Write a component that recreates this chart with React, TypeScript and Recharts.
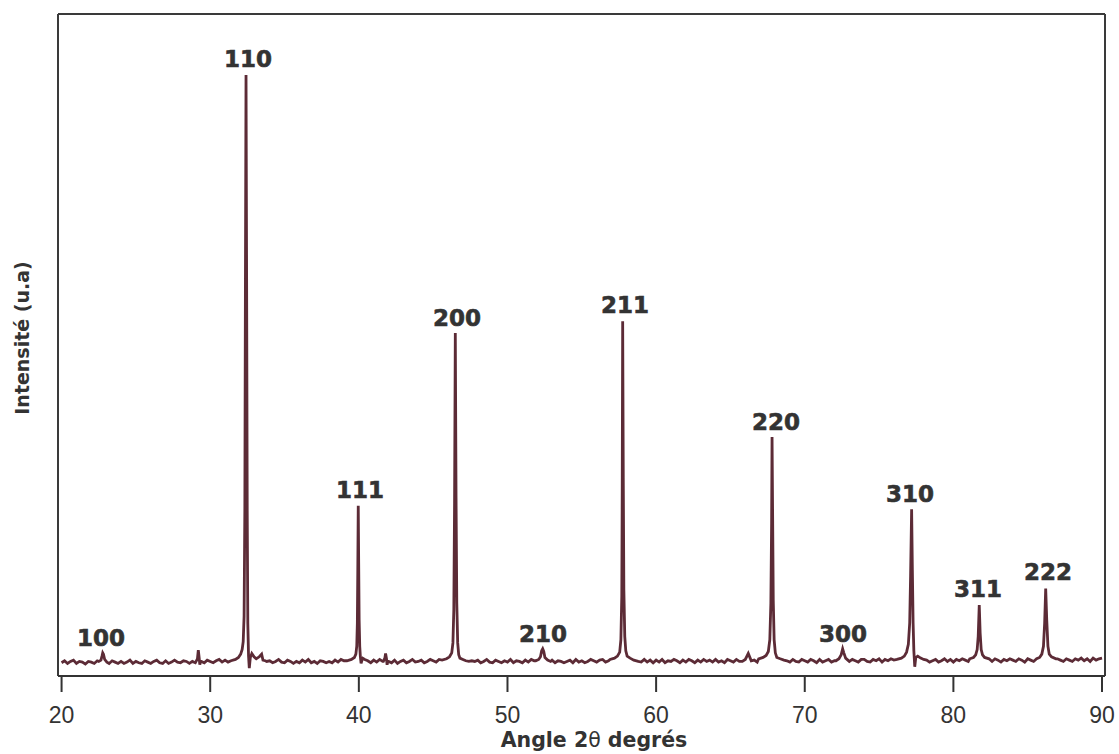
import React from 'react';
import { ComposedChart, Line, Scatter, XAxis, YAxis, ReferenceLine, Customized } from 'recharts';

// 2θ grid of the background scan (start, step) and hand-read background counts
const scanStart = 20;
const scanStep = 0.2;
const backgroundCounts: number[] = [
  20, 23, 19, 22, 24, 19, 22, 21, 18, 22,
  21, 19, 23, 22, 20, 22, 19, 23, 21, 19,
  22, 19, 21, 24, 19, 22, 20, 19, 23, 21,
  19, 22, 24, 20, 19, 23, 19, 21, 24, 21,
  20, 23, 22, 19, 22, 20, 24, 22, 20, 24,
  22, 20, 23, 25, 21, 24, 21, 25, 23, 26,
  25, 28, 30, 30, 30, 28, 26, 24, 23, 22,
  23, 20, 22, 25, 21, 20, 24, 22, 19, 22,
  20, 24, 21, 25, 20, 22, 19, 23, 22, 20,
  22, 20, 24, 21, 25, 23, 21, 23, 25, 26,
  26, 24, 23, 21, 20, 24, 21, 25, 22, 23,
  22, 20, 24, 19, 22, 24, 20, 22, 25, 21,
  22, 24, 20, 22, 25, 23, 21, 25, 25, 26,
  27, 28, 30, 40, 30, 28, 26, 24, 23, 22,
  24, 20, 22, 25, 21, 20, 24, 22, 20, 23,
  21, 25, 20, 23, 22, 20, 24, 21, 25, 23,
  23, 25, 24, 23, 22, 24, 20, 23, 22, 20,
  22, 24, 20, 25, 21, 23, 20, 22, 25, 23,
  21, 24, 25, 21, 23, 25, 24, 26, 27, 30,
  30, 28, 26, 23, 24, 21, 25, 21, 24, 20,
  24, 21, 25, 20, 23, 22, 25, 23, 20, 24,
  21, 25, 23, 20, 24, 21, 25, 22, 24, 21,
  25, 21, 23, 20, 25, 23, 21, 25, 22, 22,
  25, 34, 23, 24, 21, 24, 25, 26, 28, 30,
  30, 28, 26, 23, 24, 21, 25, 22, 21, 25,
  23, 21, 25, 23, 20, 25, 21, 23, 25, 21,
  23, 25, 26, 28, 30, 22, 25, 23, 21, 25,
  25, 22, 21, 25, 23, 26, 21, 25, 23, 26,
  24, 25, 26, 28, 30, 30, 30, 30, 30, 28,
  26, 24, 21, 23, 25, 21, 23, 26, 22, 25,
  21, 25, 23, 26, 24, 22, 25, 25, 26, 28,
  27, 25, 24, 22, 26, 24, 21, 25, 23, 26,
  24, 22, 26, 24, 21, 26, 24, 22, 25, 26,
  28, 30, 30, 30, 28, 26, 24, 22, 26, 24,
  22, 26, 24, 27, 23, 26, 22, 27, 24, 26,
  27,
];

// Hand-read peak profiles: [2θ, intensity]
const peak100: [number, number][] = [[22.5, 22], [22.65, 24], [22.72, 30], [22.77, 35], [22.82, 33], [22.9, 25], [23.05, 21]];
const peak292: [number, number][] = [[29.05, 22], [29.14, 26], [29.2, 39], [29.26, 27], [29.3, 17], [29.35, 22]];
const peak110: [number, number][] = [[31.4, 23], [31.7, 25], [31.9, 28], [32.05, 33], [32.15, 40], [32.22, 52], [32.28, 90], [32.33, 250], [32.37, 600], [32.41, 908], [32.45, 600], [32.49, 250], [32.53, 80], [32.58, 30], [32.63, 12], [32.7, 28], [32.8, 34], [32.95, 29], [33.1, 26], [33.3, 29], [33.46, 33], [33.55, 24], [33.7, 23]];
const peak111: [number, number][] = [[39.2, 23], [39.5, 25], [39.7, 28], [39.8, 33], [39.86, 45], [39.9, 80], [39.93, 160], [39.96, 257], [39.99, 170], [40.02, 85], [40.06, 45], [40.1, 30], [40.15, 19], [40.25, 27], [40.4, 25], [40.6, 23]];
const peak418: [number, number][] = [[41.65, 22], [41.75, 27], [41.8, 34], [41.86, 26], [41.9, 17], [41.95, 22]];
const peak200: [number, number][] = [[45.6, 24], [45.9, 26], [46.1, 29], [46.25, 35], [46.33, 50], [46.39, 100], [46.44, 260], [46.49, 518], [46.54, 270], [46.59, 110], [46.65, 50], [46.72, 32], [46.8, 27], [47.0, 25], [47.2, 23], [47.4, 22]];
const peak210: [number, number][] = [[51.9, 23], [52.1, 25], [52.22, 29], [52.3, 38], [52.37, 41], [52.44, 37], [52.52, 28], [52.7, 24], [52.9, 22]];
const peak211: [number, number][] = [[56.9, 25], [57.2, 27], [57.4, 30], [57.55, 36], [57.63, 55], [57.69, 120], [57.72, 280], [57.75, 536], [57.79, 300], [57.83, 130], [57.89, 60], [57.96, 38], [58.05, 30], [58.25, 27], [58.5, 24], [58.8, 22]];
const peak220: [number, number][] = [[66.9, 26], [67.2, 28], [67.4, 31], [67.55, 37], [67.65, 55], [67.72, 110], [67.77, 230], [67.8, 361], [67.84, 240], [67.88, 115], [67.94, 55], [68.02, 35], [68.12, 28], [68.35, 26], [68.6, 24], [68.8, 23]];
const peak300: [number, number][] = [[72.1, 23], [72.3, 26], [72.45, 32], [72.55, 41], [72.63, 35], [72.75, 27], [72.9, 24], [73.0, 22]];
const peak310: [number, number][] = [[76.2, 25], [76.5, 27], [76.7, 30], [76.85, 36], [76.97, 48], [77.06, 80], [77.12, 150], [77.19, 252], [77.24, 160], [77.29, 80], [77.34, 38], [77.4, 14], [77.47, 28], [77.6, 30], [77.8, 27], [78.0, 25], [78.2, 24]];
const peak311: [number, number][] = [[81.1, 26], [81.35, 28], [81.5, 32], [81.6, 40], [81.67, 60], [81.74, 107], [81.8, 65], [81.87, 40], [81.96, 32], [82.1, 28], [82.4, 26]];
const peak222: [number, number][] = [[85.6, 26], [85.8, 28], [85.95, 33], [86.06, 45], [86.14, 80], [86.21, 132], [86.28, 85], [86.36, 45], [86.45, 33], [86.6, 29], [86.9, 26]];

const peakProfiles = [peak100, peak292, peak110, peak111, peak418, peak200, peak210, peak211, peak220, peak300, peak310, peak311, peak222];

// Miller-index labels: text, 2θ position, intensity position (label centre)
const hklLabels = ['100', '110', '111', '200', '210', '211', '220', '300', '310', '311', '222'];
const hklAngles = [22.65, 32.54, 40.08, 46.6, 52.39, 57.91, 68.07, 72.57, 77.08, 81.65, 86.36];
const hklLevels = [57, 932, 281, 541, 63, 560, 384, 63, 275, 131, 157];

const xTicks = [20, 30, 40, 50, 60, 70, 80, 90];
const xDomain: [number, number] = [19.76, 90.2];
const yDomain: [number, number] = [0, 1000];

const LINE_COLOR = '#5c2b36';
const AXIS_COLOR = '#333333';
const FRAME_COLOR = '#3a3a3a';

function buildData() {
  const pts: { angle: number; intensity: number }[] = [];
  backgroundCounts.forEach((v, i) => {
    const a = Math.round((scanStart + i * scanStep) * 100) / 100;
    const inside = peakProfiles.some((p) => a >= p[0][0] && a <= p[p.length - 1][0]);
    if (!inside) pts.push({ angle: a, intensity: v });
  });
  peakProfiles.forEach((p) => p.forEach(([a, v]) => pts.push({ angle: a, intensity: v })));
  pts.sort((a, b) => a.angle - b.angle);
  return pts;
}

const data = buildData();
const labelData = hklLabels.map((t, i) => ({ angle: hklAngles[i], intensity: hklLevels[i], hkl: t }));

const Titles = () => (
  <g>
    <text
      x={594}
      y={747}
      textAnchor="middle"
      fontFamily="'DejaVu Sans', sans-serif"
      fontWeight={700}
      fontSize={20.5}
      fill={AXIS_COLOR}
    >
      Angle 2<tspan fontWeight={400}>θ</tspan> degrés
    </text>
    <text
      x={0}
      y={0}
      transform="translate(29 338) rotate(-90)"
      textAnchor="middle"
      fontFamily="'DejaVu Sans', sans-serif"
      fontWeight={700}
      fontSize={19}
      fill={AXIS_COLOR}
    >
      Intensité (u.a)
    </text>
  </g>
);

const HklLabel = (props: any) => {
  const { cx, cy, payload } = props;
  return (
    <text
      x={cx}
      y={cy}
      textAnchor="middle"
      dominantBaseline="central"
      fontFamily="'DejaVu Sans', sans-serif"
      fontWeight={700}
      fontSize={23}
      fill={AXIS_COLOR}
      stroke={AXIS_COLOR}
      strokeWidth={0.6}
    >
      {payload.hkl}
    </text>
  );
};

export default function App() {
  return (
    <div style={{ position: 'absolute', left: 0, top: 0, width: 1119, height: 754, background: '#fff' }}>
      <ComposedChart width={1119} height={754} data={data} margin={{ top: 14, right: 14, bottom: 0, left: 58 }}>
        <XAxis
          dataKey="angle"
          type="number"
          domain={xDomain}
          ticks={xTicks}
          allowDataOverflow
          height={78}
          tickSize={16}
          tickMargin={15}
          interval={0}
          axisLine={{ stroke: AXIS_COLOR, strokeWidth: 2 }}
          tickLine={{ stroke: AXIS_COLOR, strokeWidth: 2 }}
          tick={{ fill: AXIS_COLOR, fontSize: 23, fontFamily: "'Liberation Sans', Arial, sans-serif" }}
        />
        <YAxis type="number" domain={yDomain} allowDataOverflow hide />
        <ReferenceLine x={xDomain[0]} stroke={FRAME_COLOR} strokeWidth={2} ifOverflow="extendDomain" />
        <ReferenceLine x={xDomain[1]} stroke={FRAME_COLOR} strokeWidth={2} ifOverflow="extendDomain" />
        <ReferenceLine y={yDomain[1]} stroke={FRAME_COLOR} strokeWidth={2} ifOverflow="extendDomain" />
        <Line
          dataKey="intensity"
          type="linear"
          stroke={LINE_COLOR}
          strokeWidth={2.8}
          dot={false}
          isAnimationActive={false}
        />
        <Scatter data={labelData} dataKey="intensity" shape={HklLabel} isAnimationActive={false} />
        <Customized component={Titles} />
      </ComposedChart>
    </div>
  );
}
